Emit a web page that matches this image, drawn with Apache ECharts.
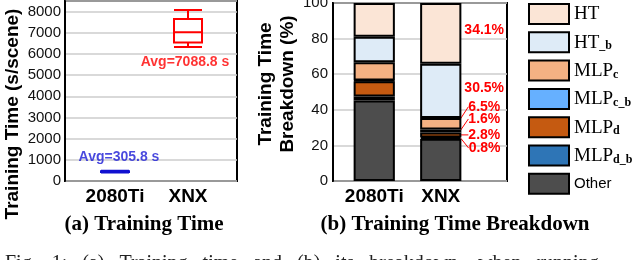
<!DOCTYPE html>
<html><head><meta charset="utf-8">
<script src="https://cdn.jsdelivr.net/npm/echarts@6.0.0/dist/echarts.min.js"></script>
<style>html,body{margin:0;padding:0;background:#fff}#c{width:640px;height:260px}</style>
</head><body><div id="c"></div>
<script>
// ---- data ----
const devices = ['2080Ti', 'XNX'];
// boxplot [min, Q1, median, Q3, max] in s/scene
const box2080Ti = [400, 420, 440, 460, 480];
const boxXNX = [6330, 6540, 7020, 7650, 8080];
const avgTime = [305.8, 7088.8];
// breakdown (%) per device [2080Ti, XNX]
const other = [45.2, 23.7];
const mlpDB = [2.3, 0.8];
const mlpD = [8.6, 2.8];
const mlpCB = [0.4, 1.6];
const mlpC = [10.2, 6.5];
const htB = [14.4, 30.5];
const ht = [18.9, 34.1];
const legendNames = ['HT', 'HT_b', 'MLP_c', 'MLP_c_b', 'MLP_d', 'MLP_d_b', 'Other'];
const subA = '(a) Training Time';
const subB = '(b) Training Time Breakdown';
const caption = 'Fig.   1:   (a)   Training   time   and   (b)   its   breakdown,   when   running';

// ---- styles ----
const SANS = 'Liberation Sans', SERIF = 'Liberation Serif';
const gridLine = {show: true, lineStyle: {color: '#cccccc', width: 1.5}};
const frame = {show: true, borderColor: '#000', borderWidth: 2, backgroundColor: 'transparent'};
const noBounds = {outerBoundsMode: 'none', containLabel: false};
const catLabel = {fontFamily: SANS, fontWeight: 'bold', fontSize: 19, color: '#000', margin: 5, lineHeight: 22, interval: 0, hideOverlap: false};
const tickLabel = {fontFamily: SANS, fontSize: 15, color: '#111'};

function seg(name, values, color, lab) {
  const s = {
    name: name, type: 'bar', stack: 'b', xAxisIndex: 3, yAxisIndex: 3,
    barWidth: '62%',
    itemStyle: {color: color, borderColor: '#000', borderWidth: 2},
    data: values.map((v, i) => (lab && i === 1) ? {value: v, label: {show: true}} : v)
  };
  if (lab) {
    s.label = {show: false, position: 'right', distance: lab.dist,
      formatter: p => p.value.toFixed(1) + '%',
      color: '#ff0000', fontWeight: 'bold', fontSize: 14, fontFamily: SANS};
    s.labelLayout = {dy: lab.dy};
    s.labelLine = {show: !!lab.line, lineStyle: {color: '#ff0000', width: 1}};
  }
  return s;
}

function legendFmt(n) {
  if (n === 'Other') return '{o|Other}';
  const parts = n.split('_');
  const main = parts[0];
  const sub = parts.slice(1).join('_');
  if (!sub) return '{m|' + main + '}';
  if (main === 'HT') return '{m|HT}{s|_' + sub + '}';
  return '{m|' + main + '}{s|' + sub + '}';
}

const chart = echarts.init(document.getElementById('c'));
chart.setOption({
  animation: false,
  backgroundColor: '#fff',
  title: [
    {text: subA, left: 139, textAlign: 'center', top: 209,
     textStyle: {fontFamily: SERIF, fontWeight: 'bold', fontSize: 21, color: '#000'}},
    {text: subB, left: 450, textAlign: 'center', top: 209,
     textStyle: {fontFamily: SERIF, fontWeight: 'bold', fontSize: 21, color: '#000'}},
    {text: caption, left: 0, top: 249,
     textStyle: {fontFamily: SERIF, fontWeight: 'normal', fontSize: 20, color: '#222'}}
  ],
  legend: {
    orient: 'vertical', left: 528, top: 3, padding: 0,
    itemWidth: 40, itemHeight: 20, itemGap: 6.3, icon: 'rect',
    data: legendNames,
    formatter: legendFmt,
    textStyle: {
      rich: {
        m: {fontFamily: SERIF, fontSize: 19, color: '#000', lineHeight: 20, verticalAlign: 'bottom'},
        s: {fontFamily: SERIF, fontSize: 12, fontWeight: 'bold', color: '#000', lineHeight: 9, verticalAlign: 'bottom'},
        o: {fontFamily: SANS, fontSize: 15, color: '#000', lineHeight: 20}
      }
    }
  },
  grid: [
    Object.assign({left: 65, top: 1, width: 172, height: 180}, frame, noBounds),
    Object.assign({left: 78.5, top: 1, width: 146, height: 180}, noBounds),
    Object.assign({left: 333, top: 3, width: 174, height: 178}, frame, noBounds),
    Object.assign({left: 341, top: 3, width: 133, height: 178}, noBounds)
  ],
  xAxis: [
    {gridIndex: 0, type: 'category', data: devices, show: false},
    {gridIndex: 1, type: 'category', data: devices, axisLine: {show: false}, axisTick: {show: false}, axisLabel: catLabel},
    {gridIndex: 2, type: 'category', data: devices, show: false},
    {gridIndex: 3, type: 'category', data: devices, axisLine: {show: false}, axisTick: {show: false}, axisLabel: catLabel}
  ],
  yAxis: [
    {gridIndex: 0, type: 'value', min: 0, max: 8500, interval: 1000,
     axisLine: {show: true, lineStyle: {color: '#000', width: 2}}, axisTick: {show: false},
     axisLabel: Object.assign({margin: 4, formatter: v => (v % 1000 === 0 ? String(v) : '')}, tickLabel),
     splitLine: gridLine,
     name: 'Training Time (s/scene)', nameLocation: 'middle', nameGap: 40,
     nameTextStyle: {fontFamily: SANS, fontWeight: 'bold', fontSize: 19, color: '#000', lineHeight: 22, padding: [0, 46, 0, 0]}},
    {gridIndex: 1, type: 'value', min: 0, max: 8500, show: false, splitLine: {show: false}},
    {gridIndex: 2, type: 'value', min: 0, max: 100, interval: 20,
     axisLine: {show: true, lineStyle: {color: '#000', width: 2}}, axisTick: {show: false},
     axisLabel: Object.assign({margin: 5}, tickLabel),
     splitLine: gridLine,
     name: 'Training Time\nBreakdown (%)', nameLocation: 'middle', nameGap: 32,
     nameTextStyle: {fontFamily: SANS, fontWeight: 'bold', fontSize: 19, color: '#000', lineHeight: 22, padding: [0, 0, 0, 16]}},
    {gridIndex: 3, type: 'value', min: 0, max: 100, show: false, splitLine: {show: false}}
  ],
  series: [
    {type: 'boxplot', xAxisIndex: 1, yAxisIndex: 1, boxWidth: [28, 28],
     data: [
       {value: box2080Ti, itemStyle: {color: '#1010d0', borderColor: '#1010d0', borderWidth: 2}},
       {value: boxXNX, itemStyle: {color: '#ffffff', borderColor: '#ff0000', borderWidth: 2}}
     ]},
    {type: 'scatter', xAxisIndex: 1, yAxisIndex: 1, symbolSize: 0,
     data: [[0, avgTime[0]]],
     label: {show: true, position: 'inside', offset: [4, -17],
       formatter: p => 'Avg=' + p.value[1] + ' s',
       color: '#1a1ad6', fontWeight: 'bold', fontSize: 14, fontFamily: SANS}},
    {type: 'scatter', xAxisIndex: 1, yAxisIndex: 1, symbolSize: 0,
     data: [[1, avgTime[1]]],
     label: {show: true, position: 'inside', offset: [-3, 31],
       formatter: p => 'Avg=' + p.value[1] + ' s',
       color: '#ff0000', fontWeight: 'bold', fontSize: 14, fontFamily: SANS}},
    seg('Other', other, '#4d4d4d', null),
    seg('MLP_d_b', mlpDB, '#2e75b6', {dist: 7, dy: 10, line: true}),
    seg('MLP_d', mlpD, '#c55a11', {dist: 7, dy: 0, line: true}),
    seg('MLP_c_b', mlpCB, '#66b0ff', {dist: 7, dy: -12, line: true}),
    seg('MLP_c', mlpC, '#f4b183', {dist: 7, dy: -17, line: true}),
    seg('HT_b', htB, '#deebf7', {dist: 3, dy: -3, line: false}),
    seg('HT', ht, '#fbe5d6', {dist: 3, dy: -3, line: false})
  ]
});
</script>
</body></html>
